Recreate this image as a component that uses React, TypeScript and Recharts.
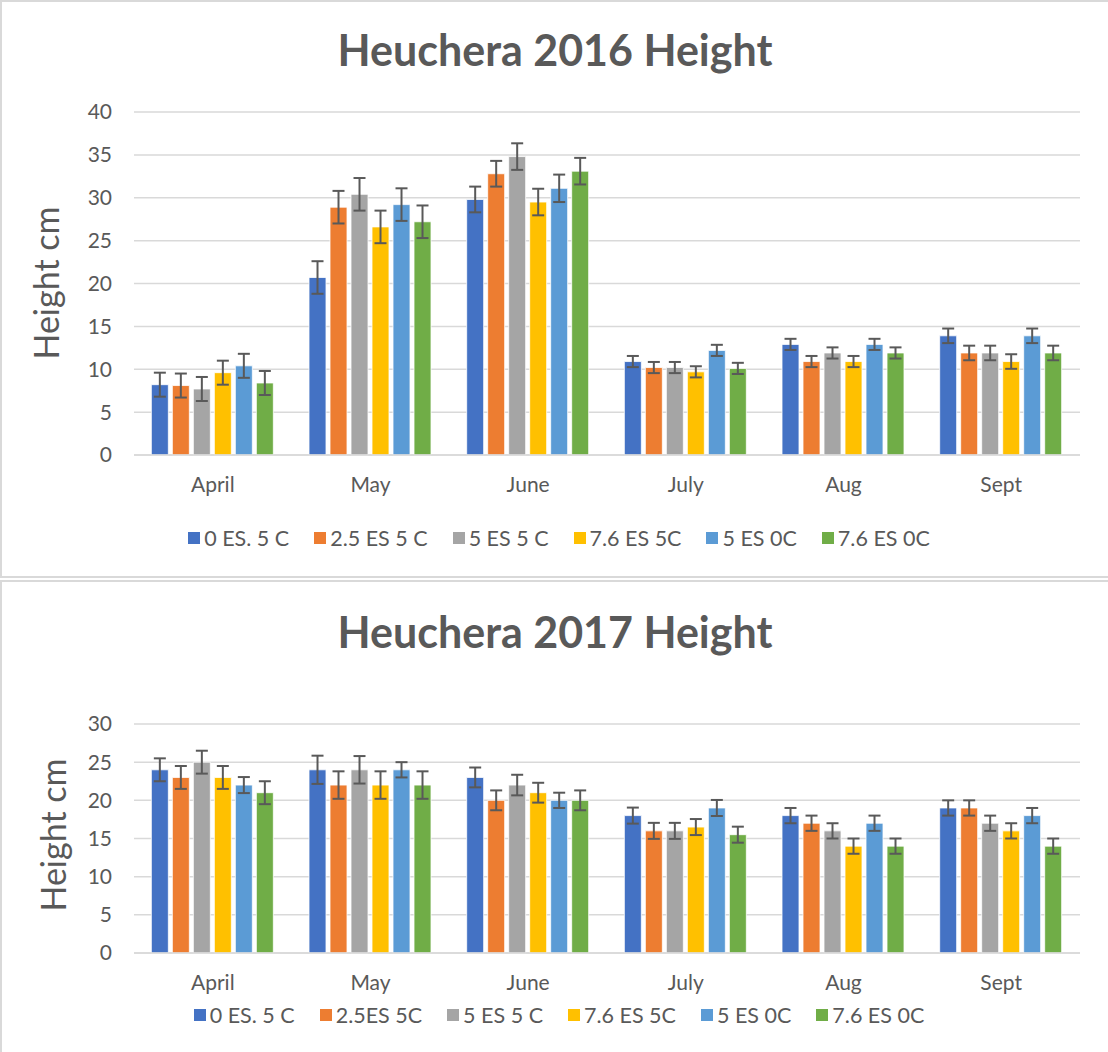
import React from 'react';
import { BarChart, Bar, XAxis, YAxis, CartesianGrid, ErrorBar, Legend } from 'recharts';

const FONT = 'Lato, "Noto Sans", sans-serif';
const INK = '#595959';
const GRID = '#d9d9d9';

const months = ['April', 'May', 'June', 'July', 'Aug', 'Sept'];
const colors = ['#4472C4', '#ED7D31', '#A5A5A5', '#FFC000', '#5B9BD5', '#70AD47'];

// 2016 season
const names2016 = ['0 ES. 5 C', '2.5 ES 5 C', '5 ES 5 C', '7.6 ES 5C', '5 ES 0C', '7.6 ES 0C'];
const height2016 = [
  [8.2, 20.7, 29.8, 10.9, 12.9, 13.9],
  [8.1, 28.9, 32.8, 10.2, 10.9, 11.9],
  [7.7, 30.4, 34.8, 10.2, 11.9, 11.9],
  [9.6, 26.6, 29.5, 9.7, 10.9, 10.9],
  [10.4, 29.2, 31.1, 12.2, 12.9, 13.9],
  [8.4, 27.2, 33.1, 10.1, 11.9, 11.9],
];
const err2016 = [
  [1.4, 1.9, 1.5, 0.65, 0.65, 0.85],
  [1.4, 1.9, 1.5, 0.65, 0.65, 0.85],
  [1.4, 1.9, 1.55, 0.65, 0.65, 0.85],
  [1.4, 1.9, 1.55, 0.65, 0.65, 0.85],
  [1.4, 1.9, 1.6, 0.65, 0.65, 0.85],
  [1.4, 1.9, 1.55, 0.65, 0.65, 0.85],
];
const ticks2016 = [0, 5, 10, 15, 20, 25, 30, 35, 40];

// 2017 season
const names2017 = ['0 ES. 5 C', '2.5ES 5C', '5 ES 5 C', '7.6 ES 5C', '5 ES 0C', '7.6 ES 0C'];
const height2017 = [
  [24, 24, 23, 18, 18, 19],
  [23, 22, 20, 16, 17, 19],
  [25, 24, 22, 16, 16, 17],
  [23, 22, 21, 16.5, 14, 16],
  [22, 24, 20, 19, 17, 18],
  [21, 22, 20, 15.5, 14, 14],
];
const err2017 = [
  [1.5, 1.85, 1.3, 1.05, 1.0, 1.0],
  [1.5, 1.8, 1.3, 1.05, 1.0, 1.0],
  [1.5, 1.8, 1.35, 1.05, 1.0, 1.0],
  [1.5, 1.8, 1.3, 1.05, 1.0, 1.0],
  [1.05, 1.0, 1.0, 1.05, 1.0, 1.0],
  [1.5, 1.8, 1.3, 1.05, 1.0, 1.0],
];
const ticks2017 = [0, 5, 10, 15, 20, 25, 30];

function buildRows(values: number[][], errors: number[][]) {
  return months.map((m, i) => {
    const row: Record<string, any> = { month: m };
    values.forEach((s, k) => {
      row[`v${k}`] = s[i];
      row[`e${k}`] = errors[k][i];
    });
    return row;
  });
}

// keep the series order (recharts sorts legend items by name otherwise)
const renderLegend = (props: any) => {
  const items = (props.payload || [])
    .slice()
    .sort((a: any, b: any) => Number(String(a.dataKey).slice(1)) - Number(String(b.dataKey).slice(1)));
  return (
    <div
      style={{
        display: 'flex',
        justifyContent: 'center',
        gap: 25,
        paddingLeft: 38,
        fontSize: 21.5,
        color: INK,
        fontFamily: FONT,
        lineHeight: '24px',
      }}
    >
      {items.map((p: any) => (
        <span key={p.value} style={{ display: 'flex', alignItems: 'center' }}>
          <span style={{ width: 12, height: 12, background: p.color, marginRight: 4, display: 'inline-block' }} />
          {p.value}
        </span>
      ))}
    </div>
  );
};

interface HeightChartProps {
  top: number;
  height: number;
  title: string;
  titleY: number;
  labelX: number;
  labelY: number;
  names: string[];
  values: number[][];
  errors: number[][];
  ticks: number[];
  margin: { top: number; right: number; left: number; bottom: number };
  axisHeight: number;
}

function HeightChart(p: HeightChartProps) {
  const data = buildRows(p.values, p.errors);
  const max = p.ticks[p.ticks.length - 1];
  return (
    <div style={{ position: 'absolute', left: 0, top: p.top, width: 1108, height: p.height }}>
      <BarChart
        width={1108}
        height={p.height}
        data={data}
        margin={p.margin}
        barCategoryGap="11%"
        barGap={4}
      >
        <CartesianGrid vertical={false} stroke={GRID} strokeWidth={1.5} />
        <XAxis
          dataKey="month"
          height={p.axisHeight}
          tickLine={false}
          tickSize={0}
          tickMargin={22}
          axisLine={{ stroke: GRID, strokeWidth: 1.5 }}
          tick={{ fill: INK, fontSize: 21, fontFamily: FONT }}
        />
        <YAxis
          width={134}
          domain={[0, max]}
          ticks={p.ticks}
          interval={0}
          axisLine={false}
          tickLine={false}
          tickSize={0}
          tickMargin={22}
          tick={{ fill: INK, fontSize: 21, fontFamily: FONT }}
        />
        <Legend verticalAlign="bottom" content={renderLegend} wrapperStyle={{ height: 24 }} />
        {p.names.map((n, k) => (
          <Bar
            key={n}
            dataKey={`v${k}`}
            name={n}
            fill={colors[k]}
            stroke="#ffffff"
            strokeWidth={0.8}
            isAnimationActive={false}
          >
            <ErrorBar dataKey={`e${k}`} width={6} strokeWidth={2} stroke={INK} />
          </Bar>
        ))}
      </BarChart>
      <div
        style={{
          position: 'absolute',
          left: 0,
          width: 1110,
          top: p.titleY - 28,
          height: 56,
          lineHeight: '56px',
          textAlign: 'center',
          fontFamily: FONT,
          fontWeight: 700,
          fontSize: 43,
          color: INK,
        }}
      >
        {p.title}
      </div>
      <div
        style={{
          position: 'absolute',
          left: p.labelX,
          top: p.labelY,
          transform: 'translate(-50%, -50%) rotate(-90deg)',
          whiteSpace: 'nowrap',
          fontFamily: FONT,
          fontSize: 34,
          color: INK,
        }}
      >
        Height cm
      </div>
    </div>
  );
}

export default function App() {
  return (
    <div style={{ position: 'absolute', left: 0, top: 0, width: 1108, height: 1052, background: '#fff', overflow: 'hidden' }}>
      <HeightChart
        top={0}
        height={577}
        title="Heuchera 2016 Height"
        titleY={50}
        labelX={45}
        labelY={283}
        names={names2016}
        values={height2016}
        errors={err2016}
        ticks={ticks2016}
        margin={{ top: 112, right: 28, left: 0, bottom: 27 }}
        axisHeight={71}
      />
      <HeightChart
        top={580}
        height={472}
        title="Heuchera 2017 Height"
        titleY={52}
        labelX={52}
        labelY={255}
        names={names2017}
        values={height2017}
        errors={err2017}
        ticks={ticks2017}
        margin={{ top: 144, right: 28, left: 0, bottom: 25 }}
        axisHeight={50}
      />
      <div style={{ position: 'absolute', left: 0, top: 0, width: 1108, height: 578, boxSizing: 'border-box', borderTop: `2px solid ${GRID}`, borderLeft: `2px solid ${GRID}`, borderBottom: `2px solid ${GRID}`, pointerEvents: 'none' }} />
      <div style={{ position: 'absolute', left: 0, top: 580, width: 1108, height: 480, boxSizing: 'border-box', borderTop: `2px solid ${GRID}`, borderLeft: `2px solid ${GRID}`, pointerEvents: 'none' }} />
    </div>
  );
}
